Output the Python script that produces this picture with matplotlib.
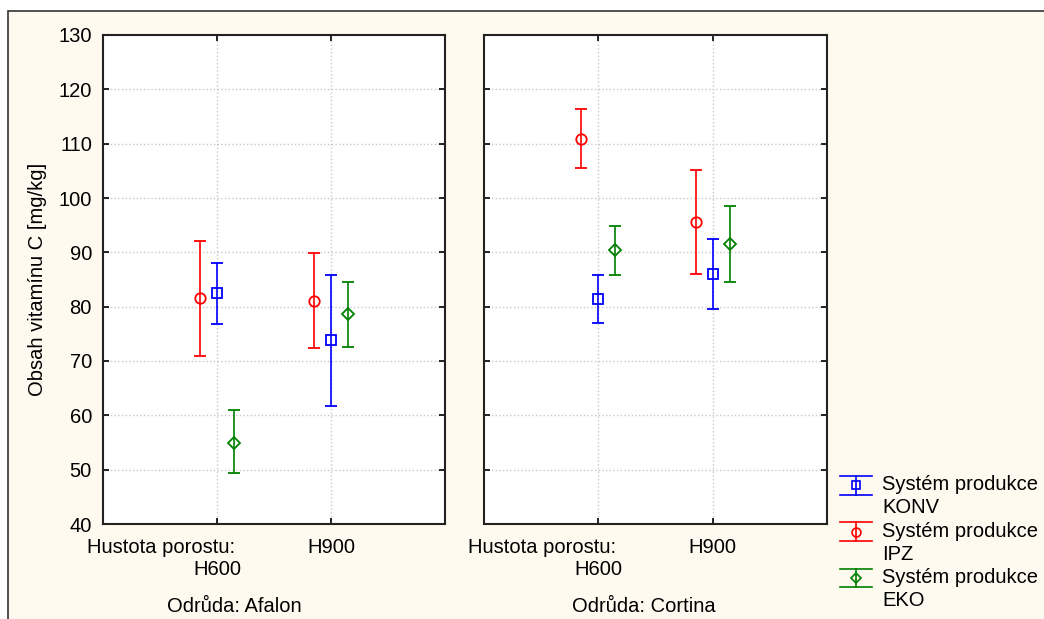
import matplotlib
matplotlib.use("Agg")
from matplotlib import pyplot as plt
from matplotlib.patches import Rectangle
from matplotlib.lines import Line2D
from matplotlib.legend_handler import HandlerBase
from matplotlib.container import ErrorbarContainer

plt.rcParams['font.family'] = ['Liberation Sans', 'DejaVu Sans']

# data
varieties = ["Afalon", "Cortina"]
densities = ["H600", "H900"]
systems = ["KONV", "IPZ", "EKO"]

# mean, lower, upper per variety -> density
konv_mean = {"Afalon": [82.5, 73.9], "Cortina": [81.5, 86.1]}
konv_low = {"Afalon": [76.9, 61.8], "Cortina": [77.0, 79.5]}
konv_high = {"Afalon": [88.0, 85.9], "Cortina": [85.8, 92.5]}

ipz_mean = {"Afalon": [81.6, 81.1], "Cortina": [110.9, 95.6]}
ipz_low = {"Afalon": [70.9, 72.4], "Cortina": [105.5, 86.0]}
ipz_high = {"Afalon": [92.1, 89.9], "Cortina": [116.3, 105.1]}

eko_mean = {"Afalon": [55.0, 78.7], "Cortina": [90.4, 91.6]}
eko_low = {"Afalon": [49.3, 72.6], "Cortina": [85.9, 84.6]}
eko_high = {"Afalon": [60.9, 84.6], "Cortina": [94.8, 98.6]}

series = [
    (konv_mean, konv_low, konv_high),
    (ipz_mean, ipz_low, ipz_high),
    (eko_mean, eko_low, eko_high),
]
colors = ["#0000ff", "#ff0000", "#008000"]
markers = ["s", "o", "D"]
msizes = [7, 7.5, 5.8]
offsets = [0.0, -0.15, 0.15]

W, H = 1044, 619
FS = 14.5
fig = plt.figure(figsize=(W / 100, H / 100), dpi=100)
fig.patch.set_facecolor("white")
fig.patches.append(Rectangle((8 / W, -0.1), 1.2, (H - 11) / H + 0.1, transform=fig.transFigure,
                             facecolor="#fefaef", edgecolor="#333333", lw=1.2, zorder=-10))

def px_axes(x0, x1, y0, y1):
    return fig.add_axes([x0 / W, 1 - y1 / H, (x1 - x0) / W, (y1 - y0) / H])

axes = [px_axes(103, 445, 35, 524), px_axes(484, 827, 35, 524)]
handles = []
for k, (ax, var) in enumerate(zip(axes, varieties)):
    ax.set_facecolor("white")
    for s, (m, lo, hi) in enumerate(series):
        xs = [i + 1 + offsets[s] for i in range(len(densities))]
        ys = m[var]
        err = [[y - l for y, l in zip(ys, lo[var])], [h - y for y, h in zip(ys, hi[var])]]
        c = ax.errorbar(xs, ys, yerr=err, fmt=markers[s], color=colors[s], ms=msizes[s],
                        mfc="none", mew=1.3, elinewidth=1.2, capsize=4.3, capthick=1.2, zorder=3)
        if k == 0:
            handles.append(c)
    ax.set_xlim(0, 3)
    ax.set_ylim(40, 130)
    ax.set_yticks(range(40, 131, 10))
    ax.set_xticks([1, 2])
    ax.grid(True, color="#c8c8c8", linestyle=":", lw=1.0)
    ax.set_axisbelow(True)
    for sp in ax.spines.values():
        sp.set_linewidth(1.5)
        sp.set_color("#222222")
    ax.tick_params(direction="in", length=4, width=1.2, top=True, right=True,
                   labelsize=FS, pad=8)
    ax.tick_params(axis="x", pad=10)
    ax.set_xticklabels(["", densities[1]])
    # first category label is two lines: prefix on the first line, value below
    ax.annotate("Hustota porostu:", xy=(1, 0), xycoords=("data", "axes fraction"),
                xytext=(13, -10), textcoords="offset points", ha="right", va="top", fontsize=FS)
    ax.annotate(densities[0], xy=(1, 0), xycoords=("data", "axes fraction"),
                xytext=(0, -26), textcoords="offset points", ha="center", va="top", fontsize=FS)
    if k == 1:
        ax.set_yticklabels([])

axes[0].set_ylabel("Obsah vitamínu C [mg/kg]", fontsize=FS, labelpad=8.5)

fig.text(234 / W, 1 - 607 / H, "Odrůda: Afalon", ha="center", va="center", fontsize=FS)
fig.text(644 / W, 1 - 607 / H, "Odrůda: Cortina", ha="center", va="center", fontsize=FS)


class ErrHandler(HandlerBase):
    def create_artists(self, legend, orig_handle, xdescent, ydescent, width, height, fontsize, trans):
        line = orig_handle.lines[0]
        col = line.get_color()
        cy = height / 2 - ydescent + fontsize * 0.57
        half = 6.8
        x0, x1 = -xdescent, -xdescent + width
        xm = (x0 + x1) / 2
        arts = [Line2D([x0, x1], [cy + half] * 2, color=col, lw=1.2),
                Line2D([x0, x1], [cy - half] * 2, color=col, lw=1.2),
                Line2D([xm, xm], [cy - half, cy + half], color=col, lw=1.2),
                Line2D([xm], [cy], marker=line.get_marker(), ms=line.get_markersize() * 0.85,
                       mfc="none", mec=col, mew=1.2, ls="none")]
        for a in arts:
            a.set_transform(trans)
        return arts


leg = fig.legend(handles, ["Systém produkce\n" + s for s in systems], loc="upper left",
                 bbox_to_anchor=(830 / W, 1 - 465 / H), frameon=False, fontsize=FS,
                 handlelength=1.6, handletextpad=0.5, labelspacing=0.22, borderpad=0,
                 handler_map={ErrorbarContainer: ErrHandler()})
for t in leg.get_texts():
    t.set_linespacing(1.27)

fig.savefig("out.png", dpi=100, facecolor=fig.get_facecolor())
